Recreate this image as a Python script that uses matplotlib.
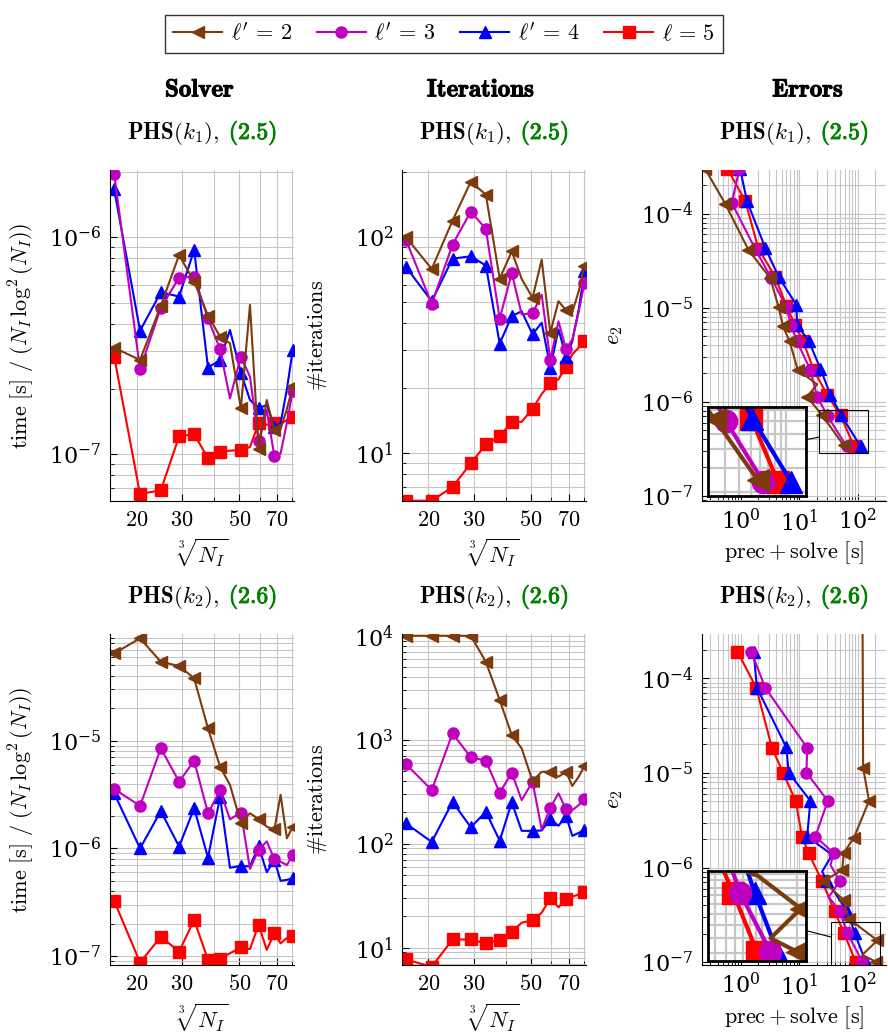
import matplotlib
matplotlib.use('Agg')
import matplotlib.pyplot as plt
from matplotlib import patheffects as pe
from matplotlib.ticker import FixedLocator, FixedFormatter, LogLocator, NullFormatter
from matplotlib.patches import Rectangle, ConnectionPatch
from matplotlib.offsetbox import TextArea, HPacker, AnnotationBbox

plt.rcParams['mathtext.fontset'] = 'cm'
plt.rcParams['font.family'] = 'DejaVu Serif'

BROWN = '#7d3a0c'
MAGENTA = '#bf00bf'
BLUE = '#0000ff'
RED = '#ff0000'
GREEN = '#008000'

# cube root of N_I
N = [16.35, 20.6, 24.8, 29.2, 33.4, 37.8, 42.1, 46.0, 50.7, 55.0, 59.4, 63.9, 68.4, 72.3, 76.5, 80.6]
MK = [0, 1, 2, 3, 4, 5, 6, 8, 10, 12, 15]

# solver time, PHS(k1)
t1_l2 = [3.1e-7, 2.72e-7, 4.84e-7, 8.28e-7, 6.24e-7, 4.35e-7, 3.49e-7, 3.25e-7, 1.63e-7, 4.88e-7, 1.06e-7, 1.78e-7, 1.29e-7, 1.31e-7, 1.62e-7, 2.06e-7]
t1_l3 = [1.96e-6, 2.46e-7, 4.74e-7, 6.52e-7, 6.58e-7, 4.23e-7, 3.05e-7, 1.81e-7, 2.82e-7, 2.28e-7, 1.15e-7, 1.6e-7, 9.8e-8, 1.01e-7, 1.4e-7, 1.96e-7]
t1_l4 = [1.66e-6, 3.71e-7, 5.58e-7, 5.33e-7, 8.74e-7, 2.51e-7, 2.72e-7, 3.74e-7, 2.38e-7, 1.78e-7, 1.63e-7, 1.69e-7, 1.34e-7, 1.39e-7, 2.0e-7, 3.03e-7]
t1_l5 = [2.82e-7, 6.56e-8, 6.84e-8, 1.21e-7, 1.24e-7, 9.6e-8, 1.03e-7, 1.04e-7, 1.05e-7, 1.08e-7, 1.39e-7, 1.37e-7, 1.40e-7, 1.38e-7, 1.44e-7, 1.48e-7]

# iterations, PHS(k1)
it1_l2 = [100, 71.2, 119, 180, 157, 64.2, 85.8, 64, 52.4, 78.6, 36.1, 50.5, 45.9, 45, 56, 73.8]
it1_l3 = [97.2, 49.1, 92.2, 131, 109, 41.9, 68.2, 43.9, 44.4, 54.2, 27.0, 40.8, 30.3, 33.6, 45, 61.4]
it1_l4 = [72.8, 50.5, 79.4, 81.5, 73.8, 32.2, 43.1, 45.4, 35.5, 40.2, 24.9, 37.4, 28.0, 33, 46, 69.3]
it1_l5 = [6.05, 6.05, 7.0, 9.0, 11.0, 12.0, 14.0, 14.0, 16.1, 18.8, 21.1, 22, 25.2, 28.7, 30.8, 33.0]

# solver time, PHS(k2)
t2_l2 = [6.47e-5, 8.93e-5, 5.41e-5, 4.94e-5, 3.8e-5, 1.3e-5, 5.74e-6, 3.88e-6, 1.73e-6, 2.12e-6, 1.87e-6, 1.59e-6, 1.5e-6, 3.14e-6, 1.24e-6, 1.59e-6]
t2_l3 = [3.56e-6, 2.48e-6, 8.5e-6, 4.16e-6, 6.52e-6, 2.12e-6, 3.45e-6, 1.86e-6, 2.15e-6, 6.45e-7, 9.7e-7, 1.16e-6, 7.93e-7, 7.5e-7, 7.0e-7, 8.69e-7]
t2_l4 = [3.24e-6, 1.0e-6, 2.22e-6, 1.04e-6, 2.36e-6, 8.2e-7, 3.0e-6, 6.6e-7, 6.87e-7, 6.8e-7, 1.05e-6, 6.0e-7, 7.8e-7, 5.0e-7, 5.1e-7, 5.27e-7]
t2_l5 = [3.25e-7, 8.7e-8, 1.51e-7, 1.1e-7, 2.16e-7, 9.2e-8, 9.46e-8, 1.06e-7, 1.2e-7, 1.16e-7, 1.95e-7, 1.14e-7, 1.63e-7, 1.31e-7, 1.47e-7, 1.54e-7]

# iterations, PHS(k2)
it2_l2 = [1e4, 1e4, 1e4, 1e4, 5620, 2410, 1110, 826, 401, 492, 492, 441, 492, 359, 440, 558]
it2_l3 = [584, 328, 1150, 678, 629, 309, 482, 263, 395, 137, 222, 305, 214, 210, 235, 269]
it2_l4 = [157, 104, 253, 144, 203, 107, 250, 133, 133, 134, 173, 149, 185, 119, 127, 137]
it2_l5 = [7.72, 6.56, 12.0, 12.0, 11.0, 11.9, 14.3, 17.4, 18.4, 21.7, 29.9, 24.5, 29.2, 30.9, 32.5, 34.5]

# errors vs. prec + solve time, PHS(k1)
e1_l2_x = [0.244, 0.538, 1.35, 3.18, 4.42, 5.25, 6.82, 9.35, 20.1, 13.6, 24.5, 57.5]
e1_l2_y = [3.0e-4, 1.28e-4, 4.11e-5, 2.06e-5, 1.01e-5, 6.35e-6, 4.38e-6, 2.18e-6, 1.53e-6, 1.13e-6, 7.18e-7, 3.43e-7]
e1_l3_x = [0.946, 0.70, 1.76, 3.31, 5.98, 7.2, 9.12, 15.4, 20.1, 30.6, 64]
e1_l3_y = [3.0e-4, 1.30e-4, 4.21e-5, 2.06e-5, 1.02e-5, 6.5e-6, 4.38e-6, 2.18e-6, 1.13e-6, 7.0e-7, 3.36e-7]
e1_l4_x = [0.97, 1.27, 2.61, 4.42, 8.89, 9.12, 14.4, 22.9, 34, 51.6, 111]
e1_l4_y = [3.0e-4, 1.36e-4, 4.33e-5, 2.13e-5, 1.07e-5, 6.5e-6, 4.46e-6, 2.24e-6, 1.18e-6, 7.2e-7, 3.36e-7]
e1_l5_x = [0.589, 1.19, 2.0, 3.87, 5.98, 8.5, 11.6, 17.6, 29.9, 50.5, 85.5]
e1_l5_y = [3.0e-4, 1.36e-4, 4.21e-5, 2.13e-5, 1.05e-5, 6.5e-6, 4.38e-6, 2.18e-6, 1.18e-6, 7.2e-7, 3.36e-7]

# errors vs. prec + solve time, PHS(k2)
e2_l2_x = [119, 123, 155, 85.5, 57.5, 54, 25.5, 57.5, 70, 215, 119, 201]
e2_l2_y = [2e-3, 1.13e-5, 5.08e-6, 2.07e-6, 1.44e-6, 9.44e-7, 7.2e-7, 4.54e-7, 2.89e-7, 1.71e-7, 1.2e-7, 1.02e-7]
e2_l3_x = [1.5, 2.61, 13.6, 13.2, 30.6, 18.8, 38.8, 34, 49.1, 31.8, 49.1, 65.8, 119]
e2_l3_y = [1.91e-4, 7.95e-5, 1.84e-5, 1.01e-5, 5.08e-6, 2.13e-6, 1.42e-6, 1.07e-6, 7.21e-7, 4.91e-7, 3.47e-7, 2.06e-7, 1.02e-7]
e2_l4_x = [1.65, 1.88, 5.98, 6.56, 15.4, 13.6, 36.4, 24.5, 29.9, 65.8, 87.7, 136]
e2_l4_y = [1.91e-4, 7.95e-5, 1.87e-5, 1.01e-5, 5.08e-6, 2.13e-6, 1.37e-6, 9.1e-7, 7.2e-7, 3.47e-7, 2.06e-7, 1.02e-7]
e2_l5_x = [0.875, 1.83, 3.4, 5.25, 8.65, 11.1, 14.4, 24.5, 39.9, 57.6, 91.5]
e2_l5_y = [1.91e-4, 7.95e-5, 1.84e-5, 1.01e-5, 5.08e-6, 2.13e-6, 1.42e-6, 7.21e-7, 3.47e-7, 2.06e-7, 1.02e-7]

labels = [r"$\ell'\,=\,2$", r"$\ell'\,=\,3$", r"$\ell'\,=\,4$", r"$\ell\,=\,5$"]
colors = [BROWN, MAGENTA, BLUE, RED]
markers = ['<', 'o', '^', 's']
ORDER = [3, 2, 1, 0]  # red drawn first, brown on top

fig = plt.figure(figsize=(8.88, 10.33), dpi=100)
W, H = 184 / 888, 331 / 1033
lefts = [110 / 888, 401.7 / 888, 701.7 / 888]
bottoms = [1 - 501 / 1033, 1 - 965 / 1033]
axes = [[fig.add_axes([l, b, W, H]) for l in lefts] for b in bottoms]


def bold(c='black', w=0.7):
    return [pe.withStroke(linewidth=w, foreground=c)]


def style(ax):
    ax.set_xscale('log')
    ax.set_yscale('log')
    ax.grid(True, which='both', color='#c6c6c6', lw=0.8)
    ax.set_axisbelow(True)
    for s in ['top', 'right']:
        ax.spines[s].set_visible(False)
    ax.tick_params(which='both', direction='in', labelsize=16, top=False, right=False)
    ax.tick_params(which='major', length=5, width=0.8, pad=6)
    ax.tick_params(which='minor', length=3, width=0.6)
    ax.yaxis.set_minor_formatter(NullFormatter())
    ax.xaxis.set_minor_formatter(NullFormatter())


def n_axis(ax):
    ax.set_xlim(15.75, 81.5)
    ax.xaxis.set_major_locator(FixedLocator([20, 30, 50, 70]))
    ax.xaxis.set_major_formatter(FixedFormatter([r'$20$', r'$30$', r'$50$', r'$70$']))
    ax.xaxis.set_minor_locator(LogLocator(subs=range(2, 10)))
    ax.set_xlabel(r'$\sqrt[3]{N_I}$', fontsize=16, va='center')
    ax.xaxis.set_label_coords(0.5, -0.157)


def plot_n(ax, series, ms=8, lw=1.5):
    for i in ORDER:
        ax.plot(N, series[i], color=colors[i], marker=markers[i], ms=ms, lw=lw, markevery=MK)


def plot_e(ax, series, scale=1):
    for i in ORDER:
        xs, ys, mk = series[i]
        ax.plot(xs, ys, color=colors[i], marker=markers[i], ms=8 * scale, lw=1.5 * scale,
                markevery=mk)


def title(ax, k, eq):
    t1 = TextArea(r'$\mathbf{PHS}(k_%d),$' % k, textprops=dict(fontsize=16.5))
    t2 = TextArea(r'$\mathbf{(%s)}$' % eq,
                  textprops=dict(fontsize=17, color=GREEN, path_effects=bold(GREEN)))
    box = HPacker(children=[t1, t2], align='baseline', pad=0, sep=7)
    ab = AnnotationBbox(box, (0.5, 1.112), xycoords='axes fraction', frameon=False,
                        box_alignment=(0.5, 0.5))
    ax.add_artist(ab)


def spy(ax, series, rect, xlim, ylim, conn):
    axin = ax.inset_axes(rect)
    plot_e(axin, series, scale=2)
    axin.set_xscale('log')
    axin.set_yscale('log')
    axin.set_xlim(*xlim)
    axin.set_ylim(*ylim)
    axin.grid(True, which='both', color='#c6c6c6', lw=1.6)
    axin.set_axisbelow(True)
    axin.tick_params(which='both', length=0, labelbottom=False, labelleft=False)
    for s in axin.spines.values():
        s.set_linewidth(2)
    ax.add_patch(Rectangle((xlim[0], ylim[0]), xlim[1] - xlim[0], ylim[1] - ylim[0],
                           fill=False, ec='black', lw=0.8, zorder=6))
    ax.add_artist(ConnectionPatch(xyA=(1, conn[0]), coordsA=axin.transAxes,
                                  xyB=(xlim[0], conn[1]), coordsB=ax.transData,
                                  color='black', lw=0.8, zorder=6))


for row in axes:
    for ax in row:
        style(ax)

TIME_LABEL = r'$\mathrm{time\ [s]\ /\ }(N_I\,\log^2(N_I))$'
ITER_LABEL = r'$\#\mathrm{iterations}$'

# row 1
ax = axes[0][0]
plot_n(ax, [t1_l2, t1_l3, t1_l4, t1_l5])
n_axis(ax)
ax.set_ylim(6.1e-8, 2.04e-6)
ax.set_ylabel(TIME_LABEL, fontsize=16, va='center')
ax.yaxis.set_label_coords(-0.478, 0.5)
title(ax, 1, '2.5')

ax = axes[0][1]
plot_n(ax, [it1_l2, it1_l3, it1_l4, it1_l5])
n_axis(ax)
ax.set_ylim(6.03, 204)
ax.set_ylabel(ITER_LABEL, fontsize=16, va='center')
ax.yaxis.set_label_coords(-0.455, 0.5)
title(ax, 1, '2.5')

ax = axes[0][2]
ser1 = [(e1_l2_x, e1_l2_y, [0, 1, 2, 3, 4, 5, 6, 7, 9, 10, 11]),
        (e1_l3_x, e1_l3_y, None), (e1_l4_x, e1_l4_y, None), (e1_l5_x, e1_l5_y, None)]
plot_e(ax, ser1)
ax.set_xlim(0.214, 299)
ax.set_ylim(8.8e-8, 2.91e-4)
ax.set_ylabel(r'$e_2$', fontsize=16, va='center')
ax.yaxis.set_label_coords(-0.477, 0.5)
ax.set_xlabel(r'$\mathrm{prec} + \mathrm{solve}\ [\mathrm{s}]$', fontsize=16, va='center')
ax.xaxis.set_label_coords(0.5, -0.157)
title(ax, 1, '2.5')
spy(ax, ser1, [0.033, 0.014, 0.534, 0.269], (21.4, 148.5), (2.83e-7, 8.24e-7), (0.637, 4.2e-7))

# row 2
ax = axes[1][0]
plot_n(ax, [t2_l2, t2_l3, t2_l4, t2_l5])
n_axis(ax)
ax.xaxis.set_label_coords(0.5, -0.16)
ax.set_ylim(8.25e-8, 9.8e-5)
ax.set_ylabel(TIME_LABEL, fontsize=16, va='center')
ax.yaxis.set_label_coords(-0.478, 0.5)
title(ax, 2, '2.6')

ax = axes[1][1]
plot_n(ax, [it2_l2, it2_l3, it2_l4, it2_l5])
n_axis(ax)
ax.xaxis.set_label_coords(0.5, -0.16)
ax.set_ylim(6.82, 1.04e4)
ax.set_ylabel(ITER_LABEL, fontsize=16, va='center')
ax.yaxis.set_label_coords(-0.455, 0.5)
title(ax, 2, '2.6')

ax = axes[1][2]
ser2 = [(e2_l2_x, e2_l2_y, [1, 2, 3, 4, 5, 6, 7, 8, 9, 11]),
        (e2_l3_x, e2_l3_y, [0, 1, 2, 3, 4, 5, 6, 8, 10, 11, 12]),
        (e2_l4_x, e2_l4_y, [0, 1, 2, 3, 4, 5, 8, 9, 10, 11]),
        (e2_l5_x, e2_l5_y, None)]
plot_e(ax, ser2)
ax.set_xlim(0.214, 299)
ax.set_ylim(9.4e-8, 2.93e-4)
ax.set_ylabel(r'$e_2$', fontsize=16, va='center')
ax.yaxis.set_label_coords(-0.477, 0.5)
ax.set_xlabel(r'$\mathrm{prec} + \mathrm{solve}\ [\mathrm{s}]$', fontsize=16, va='center')
ax.xaxis.set_label_coords(0.5, -0.16)
title(ax, 2, '2.6')
spy(ax, ser2, [0.036, 0.011, 0.531, 0.272], (35.4, 238), (9.1e-8, 2.67e-7), (0.342, 1.85e-7))

# column headers
for x, s in [(200, 'Solver'), (481, 'Iterations'), (808, 'Errors')]:
    fig.text(x / 888, 1 - 90 / 1033, r'$\mathbf{%s}$' % s, ha='center', va='center',
             fontsize=18, path_effects=bold())

handles = [plt.Line2D([], [], color=c, marker=m, ms=8, lw=1.5) for c, m in zip(colors, markers)]
fig.legend(handles, labels, loc='upper center', bbox_to_anchor=(0.5, 0.996), ncol=4,
           fontsize=16, frameon=True, fancybox=False, edgecolor='black',
           handlelength=2.2, columnspacing=1.1, borderpad=0.35, handletextpad=0.4)

fig.savefig('out.png', dpi=100)
